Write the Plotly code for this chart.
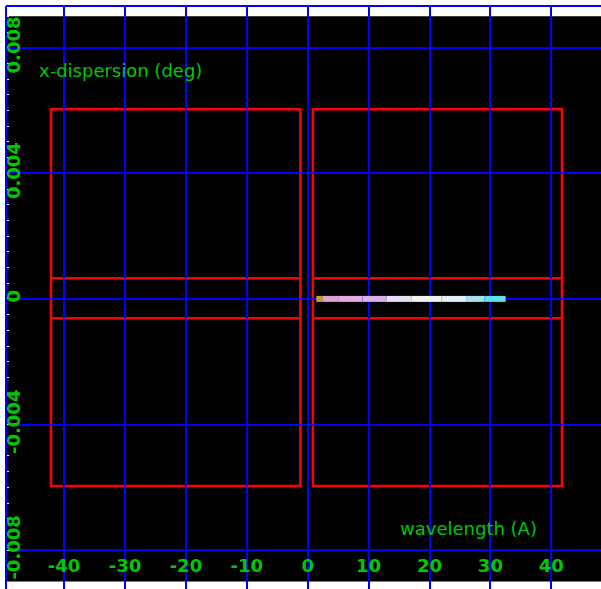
import plotly.graph_objects as go

# ---- data ----
x_range = [-49.54, 48.16]
y_range = [-0.009239, 0.009328]
x_tickvals = [-40, -30, -20, -10, 0, 10, 20, 30, 40]
x_ticktext = ["-40", "-30", "-20", "-10", "0", "10", "20", "30", "40"]
y_tickvals = [-0.008, -0.004, 0, 0.004, 0.008]
y_ticktext = ["-0.008", "-0.004", "0", "0.004", "0.008"]

# detector boxes (wavelength A, dispersion deg)
box_x0 = [-42.15, 0.85]
box_x1 = [-1.2, 41.75]
box_top = 0.00604
box_bottom = -0.00596
band_top = 0.00066
band_bottom = -0.00062

# black field extent
field_top = 0.009
field_bottom = -0.009

# spectrum trace
spec_wl = [1.4, 2.4, 5, 9, 13, 17, 22, 26, 29, 32.5]
spec_disp = [0, 0, 0, 0, 0, 0, 0, 0, 0, 0]
spec_col = ["#c8a020", "#e0a0d0", "#e8a8e0", "#d8b0f0", "#e8e0f8",
            "#f2f2f2", "#e0f0f8", "#a8e0f0", "#60e0f0", "#40e8f8"]

GREEN = "#00c800"
BLUE = "#0000ff"
RED = "#ff0000"

W, H = 601, 589
ML, MT = 6, 6


def px(page_x):
    return (page_x - ML) / (W - ML)


def py(page_y):
    return (H - page_y) / (H - MT)


fig = go.Figure()

for i in range(len(spec_wl) - 1):
    fig.add_trace(go.Scatter(
        x=spec_wl[i:i + 2], y=spec_disp[i:i + 2], mode="lines",
        line=dict(color=spec_col[i], width=6),
        hoverinfo="skip", showlegend=False))

shapes = [
    dict(type="rect", xref="paper", yref="y", x0=0, x1=1,
         y0=field_bottom, y1=field_top, fillcolor="black",
         line=dict(width=0), layer="below"),
]
for x0, x1 in zip(box_x0, box_x1):
    shapes.append(dict(type="rect", xref="x", yref="y", x0=x0, x1=x1,
                       y0=box_bottom, y1=box_top,
                       line=dict(color=RED, width=2.5), layer="below"))
    for yb in (band_top, band_bottom):
        shapes.append(dict(type="line", xref="x", yref="y", x0=x0, x1=x1,
                           y0=yb, y1=yb,
                           line=dict(color=RED, width=2.5), layer="below"))
# frame lines (top and left)
shapes.append(dict(type="line", xref="paper", yref="paper", x0=0, x1=1,
                   y0=1, y1=1, line=dict(color=BLUE, width=2), layer="above"))
shapes.append(dict(type="line", xref="paper", yref="paper", x0=0, x1=0,
                   y0=0, y1=1, line=dict(color=BLUE, width=2), layer="above"))

fig.update_layout(
    width=W, height=H,
    margin=dict(l=ML, r=0, t=MT, b=0),
    paper_bgcolor="white", plot_bgcolor="white",
    showlegend=False,
    shapes=shapes,
    annotations=[
        dict(text="x-dispersion (deg)", xref="paper", yref="paper",
             x=px(37), y=py(70), xanchor="left",
             yanchor="middle", showarrow=False,
             font=dict(family="DejaVu Sans", size=18, color=GREEN)),
        dict(text="wavelength (A)", xref="paper", yref="paper",
             x=px(539), y=py(528), xanchor="right",
             yanchor="middle", showarrow=False,
             font=dict(family="DejaVu Sans", size=18, color=GREEN)),
    ],
    xaxis=dict(
        range=x_range, tickmode="array", tickvals=x_tickvals,
        ticktext=x_ticktext, showgrid=True, gridcolor=BLUE, gridwidth=2,
        zeroline=False, ticks="", ticklabelposition="inside",
        ticklabelstandoff=10,
        tickfont=dict(family="DejaVu Sans", size=18, color=GREEN,
                      weight="bold"),
        showline=False, fixedrange=True),
    yaxis=dict(
        range=y_range, tickmode="array", tickvals=y_tickvals,
        ticktext=y_ticktext, showgrid=True, gridcolor=BLUE, gridwidth=2,
        zeroline=False, ticks="inside", ticklen=3, tickcolor="white",
        tickwidth=1,
        minor=dict(dtick=0.0005, ticks="inside", ticklen=3,
                   tickcolor="white", tickwidth=1, showgrid=False),
        ticklabelposition="inside", tickangle=-90, ticklabelstandoff=-10,
        tickfont=dict(family="DejaVu Sans", size=18, color=GREEN,
                      weight="bold"),
        showline=False, fixedrange=True),
)

fig.write_html("out.html", config={"displayModeBar": False},
               post_script="document.body.style.margin='0';"
                           "document.body.style.overflow='hidden';")
